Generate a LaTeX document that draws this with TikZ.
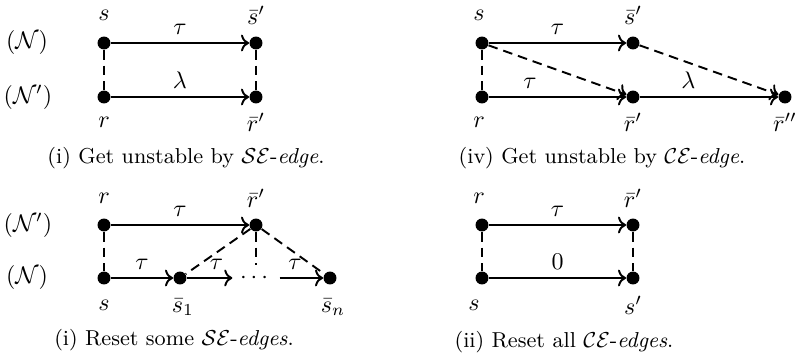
\documentclass[tikz,border=0pt]{standalone}
\usepackage{amsmath,amssymb}
\usepackage{tikz}
\usetikzlibrary{arrows.meta}

\tikzset{
  dot/.style={circle,fill=black,inner sep=0pt,minimum size=5.4pt},
  trans/.style={->,thick},
  link/.style={thick,dash pattern=on 4pt off 2.5pt},
  subcap/.style={font=\small},
}

\begin{document}
\begin{tikzpicture}[x=0.4167pt,y=-0.4167pt]
    \useasboundingbox (0,0) rectangle (798,360);
    % (i) get unstable by SE-edge
    \node (lN1) at (27,43) {$(\mathcal{N})$};
    \node (lN2) at (28,97) {$(\mathcal{N}')$};
    \node[dot] (as) at (104,43) {};
    \node[dot] (asp) at (256,43) {};
    \node[dot] (ar) at (104,97) {};
    \node[dot] (arp) at (256,97) {};
    \node at (104,15) {$s$};
    \node at (256,15) {$\bar{s}'$};
    \node at (104,122) {$r$};
    \node at (256,122) {$\bar{r}'$};
    \draw[trans] (as) -- node[above] {$\tau$} (asp);
    \draw[trans] (ar) -- node[above] {$\lambda$} (arp);
    \draw[link] (as) -- (ar);
    \draw[link] (asp) -- (arp);
    \node[subcap] (capa) at (186,158) {(i) Get unstable by $\mathcal{S}\mathcal{E}$-\textit{edge}.};

    % (iv) get unstable by CE-edge
    \node[dot] (bs) at (482,43) {};
    \node[dot] (bsp) at (633,43) {};
    \node[dot] (br) at (482,97) {};
    \node[dot] (brp) at (633,97) {};
    \node[dot] (brpp) at (785,97) {};
    \node at (479,15) {$s$};
    \node at (633,15) {$\bar{s}'$};
    \node at (479,122) {$r$};
    \node at (633,122) {$\bar{r}'$};
    \node at (785,122) {$\bar{r}''$};
    \draw[trans] (bs) -- node[above] {$\tau$} (bsp);
    \draw[trans] (br) -- node[above,pos=0.3] {$\tau$} (brp);
    \draw[trans] (brp) -- node[above,pos=0.35] {$\lambda$} (brpp);
    \draw[link] (bs) -- (br);
    \draw[link,->] (bs) -- (brp);
    \draw[link,->] (bsp) -- (brpp);
    \node[subcap] (capb) at (602,158) {(iv) Get unstable by $\mathcal{C}\mathcal{E}$-\textit{edge}.};

    % (i) reset some SE-edges
    \node (lN3) at (28,225) {$(\mathcal{N}')$};
    \node (lN4) at (27,278) {$(\mathcal{N})$};
    \node[dot] (cr) at (104,225) {};
    \node[dot] (crp) at (256,225) {};
    \node[dot] (cs) at (104,278) {};
    \node[dot] (cs1) at (180,278) {};
    \node[inner sep=3pt] (cdots) at (256,278) {$\cdots$};
    \node[dot] (csn) at (330,278) {};
    \node at (104,198) {$r$};
    \node at (256,198) {$\bar{r}'$};
    \node at (104,305) {$s$};
    \node at (183,307) {$\bar{s}_1$};
    \node at (333,307) {$\bar{s}_n$};
    \draw[trans] (cr) -- node[above] {$\tau$} (crp);
    \draw[trans] (cs) -- node[above] {$\tau$} (cs1);
    \draw[trans] (cs1) -- node[above,pos=0.65] {$\tau$} (cdots);
    \draw[trans] (cdots) -- node[above,pos=0.35] {$\tau$} (csn);
    \draw[link] (cr) -- (cs);
    \draw[link] (crp) -- (cs1);
    \draw[link] (crp) -- (cdots);
    \draw[link] (crp) -- (csn);
    \node[subcap] (capc) at (174,340) {(i) Reset some $\mathcal{S}\mathcal{E}$-\textit{edges}.};

    % (ii) reset all CE-edges
    \node[dot] (dr) at (482,225) {};
    \node[dot] (drp) at (633,225) {};
    \node[dot] (ds) at (482,278) {};
    \node[dot] (dsp) at (633,278) {};
    \node at (479,198) {$r$};
    \node at (633,198) {$\bar{r}'$};
    \node at (474,305) {$s$};
    \node at (633,305) {$s'$};
    \draw[trans] (dr) -- node[above] {$\tau$} (drp);
    \draw[trans] (ds) -- node[above] {$0$} (dsp);
    \draw[link] (dr) -- (ds);
    \draw[link] (drp) -- (dsp);
    \node[subcap] (capd) at (564,342) {(ii) Reset all $\mathcal{C}\mathcal{E}$-\textit{edges}.};
\end{tikzpicture}
\end{document}
